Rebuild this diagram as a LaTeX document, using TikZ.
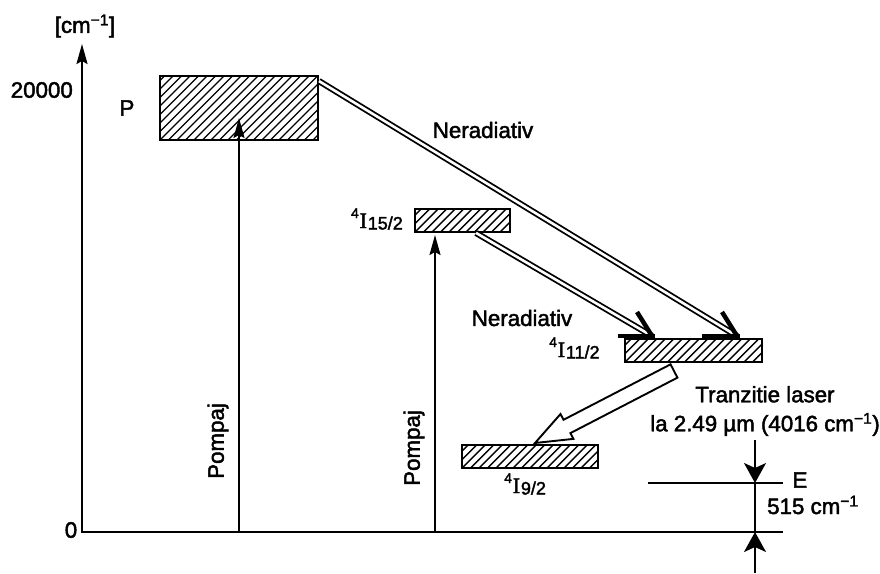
\documentclass[tikz,border=0pt]{standalone}
\usepackage{fontspec}
\setmainfont{Liberation Sans}[FakeBold=2]
\newfontfamily\termfont{Liberation Serif}[FakeBold=2]
\usetikzlibrary{arrows.meta,calc}

% spectroscopic term symbol: ^{mult} I _{J}
\newcommand\termsym[1]{%
  {\fontsize{14}{12}\selectfont\raisebox{10pt}{4}}\kern0.8pt
  {\termfont\fontsize{22}{22}\selectfont I}\kern0.8pt
  {\fontsize{18}{18}\selectfont\raisebox{-1.5pt}{#1}}}

\tikzset{
  lbl/.style={font=\fontsize{22.3}{29}\selectfont, inner sep=0pt},
  pumplbl/.style={font=\fontsize{22.3}{22}\selectfont, inner sep=0pt, rotate=90},
  lvl/.style={draw, line width=1.9pt, inner sep=0pt, fill=white,
    path picture={
      \foreach \i in {-10,...,20}
        \draw[line width=1.4pt]
          ([xshift={\i*8.5pt}]path picture bounding box.south west) -- ++(80pt,80pt);
    }},
  axisline/.style={line width=2.1pt},
  pump/.style={line width=1.9pt, -{Stealth[length=20pt,width=11pt,inset=3pt]}},
  dbl/.style={double, line width=1.8pt, double distance=2.6pt},
  barb/.style={line width=4.5pt},
  dimline/.style={line width=1.9pt},
  dimarrow/.style={line width=1.9pt, -{Stealth[length=20pt,width=22pt,inset=5pt]}},
  hollow/.style={draw, line width=1.9pt, fill=white, line join=miter},
}

\begin{document}
\begin{tikzpicture}[x=1pt, y=-1pt]
\useasboundingbox (0,0) rectangle (880,573);

% energy axis
\coordinate (O) at (82,532);
\coordinate (Ytop) at (82,44);
\coordinate (Xend) at (783,532);
\draw[axisline, {Stealth[length=20pt,width=11pt,inset=3pt]}-] (Ytop) -- (O) -- (Xend);
\node[lbl] (unit) at (85,26) {[cm\textsuperscript{−1}]};
\node[lbl, anchor=east] (v20k) at (73,90) {20000};
\node[lbl] (v0) at (71,530) {0};

% energy levels
\node[lvl, minimum width=158pt, minimum height=64pt] (P)   at (239,108)   {};
\node[lvl, minimum width=95pt,  minimum height=23pt] (L15) at (462.5,220.5) {};
\node[lvl, minimum width=137pt, minimum height=23pt] (L11) at (693.5,350.5) {};
\node[lvl, minimum width=136pt, minimum height=23pt] (L9)  at (530,456.5) {};

\node[lbl] (Plbl) at (127,108) {P};
\node[inner sep=0pt, anchor=base east] (L15lbl) at (403,228) {\termsym{15/2}};
\node[inner sep=0pt, anchor=base west] (L11lbl) at (549,357) {\termsym{11/2}};
\node[inner sep=0pt, anchor=base west] (L9lbl)  at (504,493) {\termsym{9/2}};

% pumping
\coordinate (p1) at (239,532);
\coordinate (p1t) at (239,118);
\coordinate (p2) at (435,532);
\coordinate (p2t) at (435,235);
\draw[pump] (p1) -- (p1t);
\draw[pump] (p2) -- (p2t);
\node[pumplbl] (pl1) at (218,441) {Pompaj};
\node[pumplbl] (pl2) at (414,448) {Pompaj};

% non-radiative decays
\coordinate (t1) at (652,336);
\coordinate (t2) at (737,336);
\coordinate (b1) at (637,312);
\coordinate (b2) at (722,312);
\coordinate (r1a) at (618,336);
\coordinate (r1b) at (655,336);
\coordinate (r2a) at (702,336);
\coordinate (r2b) at (740,336);
\draw[dbl] ([yshift=-6pt]P.north east) -- (t2);
\draw[dbl] ([xshift=62pt]L15.south west) -- (t1);
\draw[barb] (b1) -- (t1);
\draw[barb] (b2) -- (t2);
\draw[barb] (r1a) -- (r1b);
\draw[barb] (r2a) -- (r2b);
\node[lbl] (nr1) at (483,130) {Neradiativ};
\node[lbl] (nr2) at (522,318) {Neradiativ};

% laser transition (hollow arrow)
\coordinate (hT) at (535,443);
\coordinate (hC) at (674,371);
\coordinate (hB) at ($(hT)!36pt!(hC)$);
\path[hollow] (hT)
  -- ($(hB)!14pt!90:(hT)$)
  -- ($(hB)!7.5pt!90:(hT)$)
  -- ($(hC)!7.5pt!90:(hT)$)
  -- ($(hC)!7.5pt!-90:(hT)$)
  -- ($(hB)!7.5pt!-90:(hT)$)
  -- ($(hB)!14pt!-90:(hT)$)
  -- cycle;
\node[lbl, align=center] (laser) at (765,411)
  {Tranzitie laser\\la 2.49 µm (4016 cm\textsuperscript{−1})};

% level E and its spacing from the ground level
\coordinate (dTop) at (755,440);
\coordinate (dE) at (755,483);
\coordinate (dO) at (755,532);
\coordinate (dBot) at (755,573);
\coordinate (eL) at (648,483);
\coordinate (eR) at (783,483);
\draw[dimline] (eL) -- (eR);
\draw[dimarrow] (dTop) -- (dE);
\draw[dimline] (dE) -- (dO);
\draw[dimarrow] (dBot) -- (dO);
\node[lbl] (Elbl) at (800,480) {E};
\node[lbl, anchor=base west] (Egap) at (767,514) {515 cm\textsuperscript{−1}};
\end{tikzpicture}
\end{document}
